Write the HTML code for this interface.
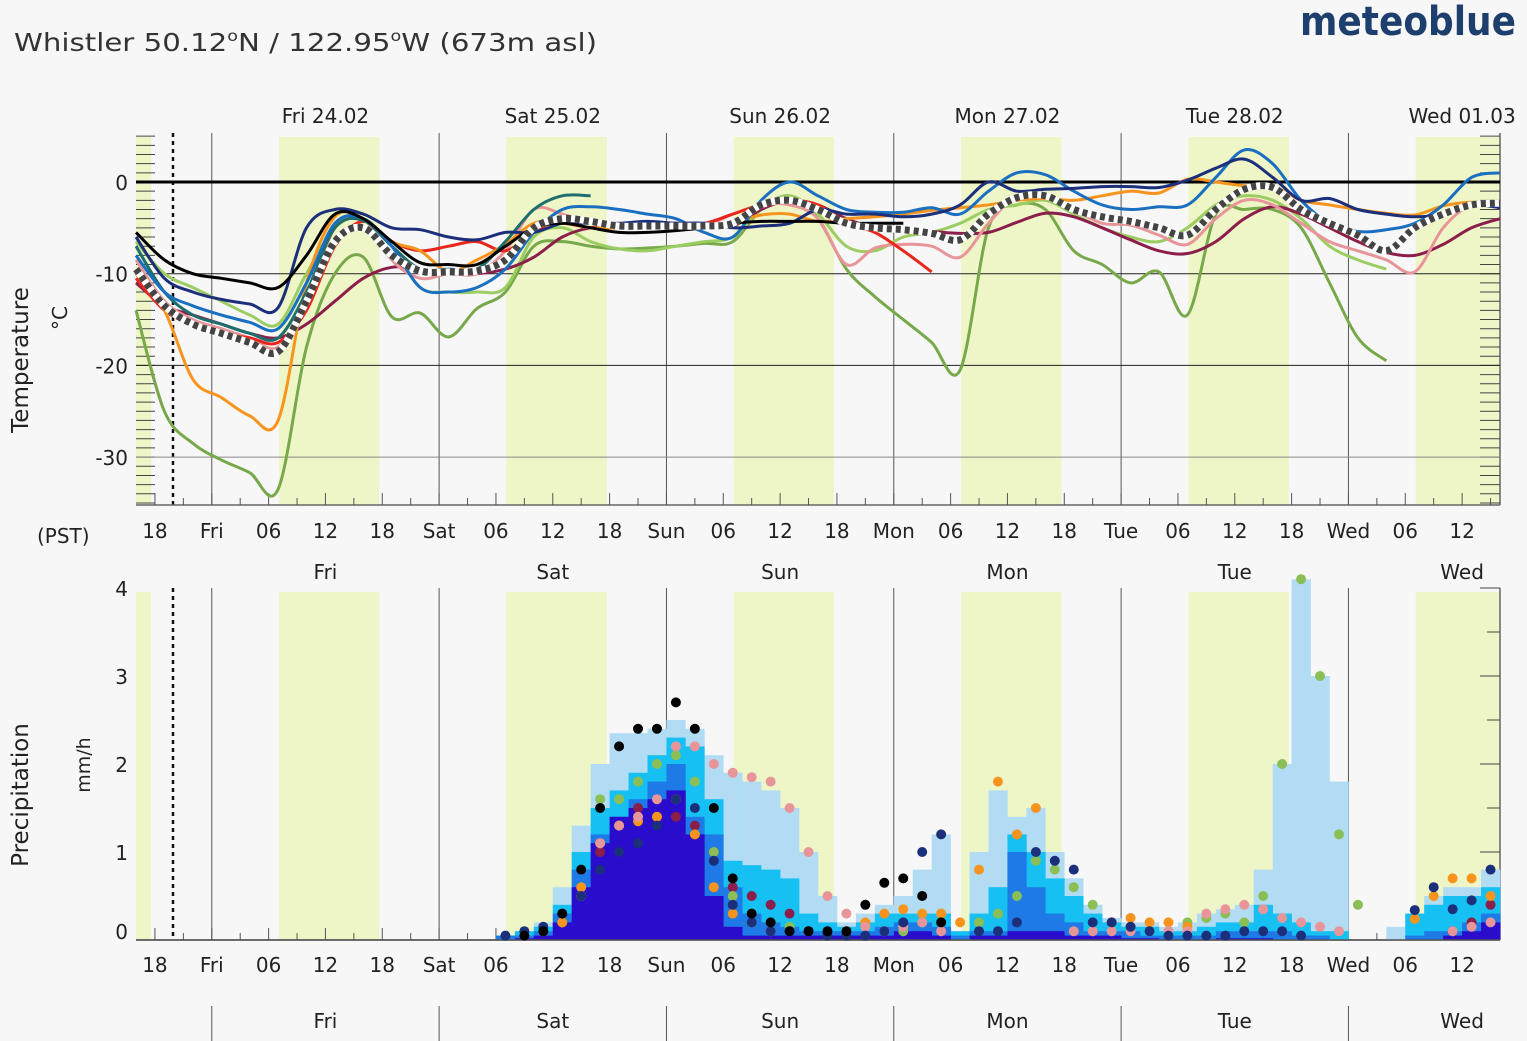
<!DOCTYPE html>
<html><head><meta charset="utf-8"><style>
html,body{margin:0;padding:0;background:#f7f7f7;}
svg{display:block;font-family:"DejaVu Sans","Liberation Sans",sans-serif;}
</style></head><body>
<svg id="chart" width="1527" height="1041" viewBox="0 0 1527 1041" xmlns="http://www.w3.org/2000/svg">
<rect x="0" y="0" width="1527" height="1041" fill="#f7f7f7"/>
<text x="14" y="51" font-size="25" fill="#333" textLength="583" lengthAdjust="spacingAndGlyphs">Whistler  50.12<tspan font-size="15" dy="-10">o</tspan><tspan dy="10">N / 122.95</tspan><tspan font-size="15" dy="-10">o</tspan><tspan dy="10">W (673m asl)</tspan></text>
<text x="1300" y="35" font-size="40" font-weight="bold" fill="#1d3f6e" textLength="216" lengthAdjust="spacingAndGlyphs">meteoblue</text>
<g id="topG"></g>
<g id="botG"></g>
<text transform="translate(28,360) rotate(-90)" text-anchor="middle" font-size="23" fill="#222">Temperature</text>
<text transform="translate(67,318) rotate(-90)" text-anchor="middle" font-size="20" fill="#222">°C</text>
<text x="37" y="543" font-size="20" fill="#222">(PST)</text>
<text transform="translate(28,795) rotate(-90)" text-anchor="middle" font-size="23" fill="#222">Precipitation</text>
<text transform="translate(90,765) rotate(-90)" text-anchor="middle" font-size="19" fill="#222">mm/h</text>
</svg>
<script>
// ---------- data ----------
const dayNames = ["Fri","Sat","Sun","Mon","Tue","Wed"];
const dayDates = ["Fri 24.02","Sat 25.02","Sun 26.02","Mon 27.02","Tue 28.02","Wed 01.03"];
const tempTicks = [0,-10,-20,-30];
const precipTicks = [0,1,2,3,4];
const tempHours = []; for (let h=0; h<=144; h+=3) tempHours.push(h);
const N=null;
const tGreenDark = [-14,-25,-28.5,-30.3,-31.7,-33.5,-18,-10,-8.2,-14.7,-14.3,-16.9,-13.8,-12,-7,-6.5,-7,-7.3,-7.2,-7,-6.7,-6.5,-3,-1.5,-4,-9.5,-12.5,-15,-17.5,-20.5,-5,-2.5,-3,-7.5,-9,-11,-9.8,-14.5,-3.5,-3,-3,-5,-11,-17,-19.5,N,N,N,N];
const tGreenLight = [-6.5,-10,-11.5,-13,-14.5,-15.5,-10,-5,-4,-7,-11.5,-12,-12,-11.5,-6,-5,-6.5,-7.3,-7.5,-7,-6.5,-6,-3,-1.5,-3.5,-7,-7.5,-6,-5.5,-4.5,-3,-2.5,-2,-3.5,-5,-6,-6.5,-5,-2.5,-1.5,-2,-4,-7,-8.5,-9.5,N,N,N,N];
const tMaroon = [-11,-13.5,-14.5,-15.5,-16.5,-17,-15.5,-13,-10.5,-9.3,-9.5,-10,-10,-9.5,-8.2,-6,-5,-5,-4.8,-4.8,-4.8,-4.8,-3,-2,-2.5,-4,-5,-5.2,-5.4,-5.6,-5.5,-4.4,-3.4,-3.8,-5,-6.3,-7.5,-7.8,-6.5,-4,-2.7,-3.5,-5,-6.5,-7.7,-8,-6.8,-5,-4];
const tPink = [-8.5,-13,-15,-16,-17,-18,-13,-5,-4,-8.5,-10.5,-10,-10,-7.5,-3,-3.5,-4.5,-5,-4.8,-4.5,-4.8,-3.5,-2.5,-2.5,-4,-9,-7.2,-6.8,-7,-8.2,-4.5,-1.5,-1.5,-3,-4.5,-4.7,-5.8,-6.8,-4,-2,-2.5,-4.5,-6.5,-7.5,-8.5,-9.8,-5,-2.5,-2.8];
const tRed = [-10.5,-14,-15.5,-16.5,-17,-17.5,-14,-7,-4.3,-6.5,-7.5,-7,-6.5,-7.5,-5.5,-4,-4.5,-5,-4.8,-4.5,-4.5,-3.5,-2.5,-2,-2.5,-4.5,-5.5,-7.5,-9.8,N,N,N,N,N,N,N,N,N,N,N,N,N,N,N,N,N,N,N,N];
const tOrange = [-10,-14,-21.5,-23.5,-25.5,-26,-11,-3.8,-4,-6.5,-7.5,-9.8,-8.5,-6.8,-4.5,-4.5,-5,-5,-5,-5,-5,-4.5,-3.6,-3.5,-4.3,-4,-3.8,-3.5,-3.1,-2.8,-2.5,-2,-1.8,-2,-1.5,-1,-1.2,0.3,0,-0.4,-0.5,-2,-2.5,-3,-3.4,-3.6,-2.6,-2.2,-2.4];
const tTeal = [-7,-12,-14.5,-15.5,-16.5,-17,-12,-5,-4.2,-7,-9.5,-9.5,-9.5,-6.5,-3,-1.5,-1.5,N,N,N,N,N,N,N,N,N,N,N,N,N,N,N,N,N,N,N,N,N,N,N,N,N,N,N,N,N,N,N,N];
const tBlue = [-8,-12,-13.5,-14.5,-15.3,-16,-11,-4.5,-4,-7,-11.5,-12,-11.5,-9.5,-5.5,-3,-2.7,-3,-3.5,-4,-5.5,-6,-2,0,-1.5,-3,-3.3,-3.3,-2.8,-3.5,-1,1,0.8,-1,-2.5,-3,-2.7,-2.5,0.5,3.5,2,-2,-4.5,-5.4,-5.2,-4.5,-2.5,0.5,1];
const tNavy = [-6,-10.5,-12,-12.8,-13.3,-13.7,-5,-3,-3.5,-5,-5.2,-6,-6.3,-5.5,-5.5,-4.5,-4.5,-4.5,-4.3,-4.5,-4.5,-5,-4.8,-4.5,-3,-3.5,-3.5,-3.8,-3.5,-2.5,0,-1,-0.8,-0.7,-0.5,-0.5,-0.6,0.2,1.5,2.5,0.5,-2,-1.8,-3,-3.5,-3.8,-3.5,-2.5,-2.8];
const tBlack = [-5.5,-8.5,-10,-10.5,-11,-11.5,-8,-3.5,-4,-6.5,-8.8,-9,-9,-7,-5,-4.5,-5,-5.5,-5.5,-5.3,-5,-4.5,-4.3,-4.3,-4.3,-4.5,-4.5,-4.5,N,N,N,N,N,N,N,N,N,N,N,N,N,N,N,N,N,N,N,N,N];
const tMean = [-9.5,-13.5,-15.5,-16.5,-17.5,-18.5,-13,-6.5,-5,-8,-9.7,-9.8,-9.7,-8.5,-5,-4,-4.3,-4.8,-4.8,-4.8,-4.8,-4.5,-2.5,-2,-3,-4.5,-5,-5.2,-5.6,-6.3,-3.5,-1.7,-1.5,-3,-3.8,-4.3,-5,-5.8,-3,-0.8,-0.6,-3,-4.5,-5.8,-7.5,-5,-3.5,-2.5,-2.3];

const precipHours = []; for (let h=38; h<=142; h+=2) precipHours.push(h);
const pLight  = [.05,.1,.2,.6,1.3,2.0,2.35,2.35,2.4,2.5, 2.4,2.1,1.9,1.8,1.7,1.5,1.0,.5,.2,.3, .4,.5,.8,1.2,.1,1.0,1.7,1.4,1.5,1.0, .7,.4,.25,.2,.2,.15,.2,.3,.35,.4, .8,2.0,4.1,3.0,1.8,0,0,.15,.3,.5, .6,.6,.8];
const pCyan   = [.05,.1,.15,.4,1.0,1.5,1.7,1.9,2.1,2.3, 2.2,1.6,.9,.85,.8,.7,.3,.2,.15,.2, .3,.3,.3,.3,.1,.3,.6,1.2,1.0,.7, .5,.3,.2,.15,.15,.1,.1,.15,.2,.2, .4,.3,.2,.1,.1,0,0,0,.3,.4, .5,.5,.6];
const pBlue   = [.05,.05,.1,.3,.8,1.2,1.4,1.6,1.8,2.0, 1.4,1.2,.6,.3,.2,.15,.1,.1,.1,.1, .15,.2,.2,.15,.05,.1,.1,1.0,.6,.3, .2,.1,.1,.1,.05,.05,.05,.05,.1,.1, .1,.1,.05,.05,0,0,0,0,.05,.1, .1,.2,.3];
const pIndigo = [0,.02,.05,.2,.6,1.1,1.4,1.5,1.6,1.7, 1.2,.5,.15,.05,.05,.05,.05,.05,.05,.05, .05,.1,.1,.05,0,.05,.05,.1,.1,.1, .05,.05,.05,.02,.02,0,0,0,.02,.02, .02,0,0,0,0,0,0,0,0,0, .05,.1,.2];
const dBlack  = [N,.05,.1,.3,.8,1.5,2.2,2.4,2.4,2.7, 2.4,1.5,.7,.3,.2,.1,.1,.1,.1,.4, .65,.7,.5,.2,N,N,N,N,N,N, N,N,N,N,N,N,N,N,N,N, N,N,N,N,N,N,N,N,N,N, N,N,N];
const dPink   = [N,N,N,N,.5,1.1,1.3,1.4,1.6,2.2, 2.2,2.0,1.9,1.85,1.8,1.5,1.0,.5,.3,.15, .1,.15,.2,.1,N,N,N,N,N,N, .1,.1,.1,.1,.1,.1,.1,.3,.35,.4, .35,.25,.2,.15,.1,N,N,N,N,N, .1,.15,.2];
const dGreen  = [N,N,.1,.2,.5,1.6,1.6,1.8,2.0,2.1, 1.8,1.0,.5,.3,.2,.15,.1,N,N,N, N,.1,.2,.3,N,.2,.3,.5,.9,.8, .6,.4,.2,.15,.1,.05,.2,.25,.3,.2, .5,2.0,4.1,3.0,1.2,.4,N,N,N,N, N,N,N];
const dNavy   = [.05,.1,.15,.3,.5,.8,1.0,1.1,1.3,1.6, 1.5,.9,.4,.2,.1,.1,.1,.05,.05,.05, .1,.2,1.0,1.2,N,.1,.1,.2,1.0,.9, .8,.2,.2,.15,.1,.05,.05,.05,.05,.1, .1,.1,.05,N,N,N,N,N,.34,.6, .35,.45,.8];
const dOrange = [N,N,N,.2,.6,1.1,1.3,1.35,1.4,1.6, 1.2,.6,.3,.2,.1,N,N,N,.1,.2, .3,.35,.3,.3,.2,.8,1.8,1.2,1.5,N, N,N,.2,.25,.2,.2,.15,N,N,N, N,N,N,N,N,N,N,N,.24,.5, .7,.7,.5];
const dMaroon = [N,N,.1,.2,.5,1.0,1.3,1.5,1.4,1.4, 1.3,1.0,.6,.5,.4,.3,.1,N,N,N, N,N,N,N,N,N,N,N,N,N, N,N,N,N,N,N,N,N,N,N, N,N,N,N,N,N,N,N,N,N, .1,.2,.4];

// ---------- scales ----------
const X0=136, X1=1500, HRS=144;
const X = h => X0 + h*(X1-X0)/HRS;
const TY = t => 182 - t*9.17;
const PY = p => 940 - p*88;
const NS="http://www.w3.org/2000/svg";
function mk(parent, tag, attrs, txt){
  const e=document.createElementNS(NS,tag);
  for(const k in attrs) e.setAttribute(k,attrs[k]);
  if(txt!==undefined) e.textContent=txt;
  parent.appendChild(e); return e;
}
const topG=document.getElementById('topG'), botG=document.getElementById('botG');

function frame(g, y0, y1, isTop){
  const spans=[[-100,1.6]];
  for(let d=0; d<6; d++) spans.push([8+24*d+7.1, 8+24*d+17.7]);
  spans.forEach(s=>{
    const a=Math.max(X(s[0]),X0), b=Math.min(X(s[1]),X1);
    if(b<=a) return;
    const r=mk(g,'rect',{x:a,y:y0+4,width:b-a,height:y1-y0-4,fill:'#eef6c8'});
    
    
  });
  for(let d=0; d<6; d++){
    const l=mk(g,'line',{x1:X(8+24*d),x2:X(8+24*d),y1:y0,y2:y1,stroke:'#555','stroke-width':1});
    
    
  }
  const nl=mk(g,'line',{x1:173,x2:173,y1:y0,y2:y1,stroke:'#111','stroke-width':2.5,'stroke-dasharray':'4 4'});
  
  
  mk(g,'line',{x1:X0,x2:X1,y1:y1,y2:y1,stroke:'#666','stroke-width':1.5});
  mk(g,'line',{x1:X1,x2:X1,y1:y0,y2:y1,stroke:'#666','stroke-width':1.5});
  for(let h=2; h<=144; h+=3){
    const big=((h-2)%6===0);
    mk(g,'line',{x1:X(h),x2:X(h),y1:y1-(big?12:7),y2:y1,stroke:'#555','stroke-width':1});
  }
  const ly = isTop?538:972;
  for(let h=2; h<=140; h+=6){
    const hr=(16+h)%24; let lab;
    if(hr===0) lab=dayNames[Math.floor((h-8)/24)];
    else lab=(hr<10?'0':'')+hr;
    const t=mk(g,'text',{x:X(h),y:ly,'text-anchor':'middle','font-size':20,fill:'#222'},lab);
    
    
  }
}

// ---------- temperature ----------
frame(topG,133,505,true);
for(let v=5; v>=-35; v--){
  mk(topG,'line',{x1:X0,x2:X0+19,y1:TY(v),y2:TY(v),stroke:'#444','stroke-width':1});
  mk(topG,'line',{x1:X1-20,x2:X1,y1:TY(v),y2:TY(v),stroke:'#444','stroke-width':1});
}
tempTicks.forEach(v=>{
  const gl=mk(topG,'line',{x1:X0,x2:X1,y1:TY(v),y2:TY(v),stroke:v===0?'#000':(v===-30?'#888':'#222'),'stroke-width':v===0?3:1});
  
  
  const t=mk(topG,'text',{x:128,y:TY(v)+8,'text-anchor':'end','font-size':20,fill:'#222'},String(v));
  
  
});
dayDates.forEach((d,i)=>{
  const t=mk(topG,'text',{x:X(20+24*i),y:123,'text-anchor':'middle','font-size':20,fill:'#222'},d);
  
  
});
function segs(vals){
  const out=[]; let cur=[];
  vals.forEach((v,i)=>{ if(v===null){ if(cur.length) out.push(cur); cur=[]; } else cur.push([X(tempHours[i]),TY(v)]); });
  if(cur.length) out.push(cur); return out;
}
function smooth(p){
  let d=`M${p[0][0].toFixed(1)},${p[0][1].toFixed(1)}`;
  for(let i=0;i<p.length-1;i++){
    const p0=p[i-1]||p[i], p1=p[i], p2=p[i+1], p3=p[i+2]||p2;
    const c1=[p1[0]+(p2[0]-p0[0])/6, p1[1]+(p2[1]-p0[1])/6];
    const c2=[p2[0]-(p3[0]-p1[0])/6, p2[1]-(p3[1]-p1[1])/6];
    d+=` C${c1[0].toFixed(1)},${c1[1].toFixed(1)} ${c2[0].toFixed(1)},${c2[1].toFixed(1)} ${p2[0].toFixed(1)},${p2[1].toFixed(1)}`;
  }
  return d;
}
const tSeries=[[tGreenDark,'#77a94a','temp-line-green'],[tGreenLight,'#9ccd62','temp-line-lightgreen'],[tMaroon,'#8b1e4a','temp-line-maroon'],[tPink,'#e8959a','temp-line-pink'],[tRed,'#e8261b','temp-line-red'],[tOrange,'#f7941d','temp-line-orange'],[tTeal,'#1f6e6e','temp-line-teal'],[tBlue,'#1a6fc0','temp-line-blue'],[tNavy,'#1b2f7a','temp-line-navy'],[tBlack,'#000','temp-line-black']];
tSeries.forEach(s=>{
  segs(s[0]).forEach(p=>{
    const path=mk(topG,'path',{d:smooth(p),fill:'none',stroke:s[1],'stroke-width':3,'stroke-linejoin':'round'});
    
    
  });
});
segs(tMean).forEach(p=>{
  mk(topG,'path',{d:smooth(p),fill:'none',stroke:'#fff','stroke-width':7});
  const path=mk(topG,'path',{d:smooth(p),fill:'none',stroke:'#444','stroke-width':7,'stroke-dasharray':'5 4'});
  
  
});

// ---------- precipitation ----------
frame(botG,588,940,false);
for(let v=0; v<=4; v+=0.5){
  const L=(v%1===0)?20:13;
  mk(botG,'line',{x1:X1-L,x2:X1,y1:PY(v),y2:PY(v),stroke:'#444','stroke-width':1});
}
precipTicks.forEach(v=>{
  const t=mk(botG,'text',{x:128,y:(v===0?PY(v)-1:PY(v)+8),'text-anchor':'end','font-size':20,fill:'#222'},String(v));
  
  
});
dayNames.forEach((d,i)=>{
  const t=mk(botG,'text',{x:X(20+24*i),y:579,'text-anchor':'middle','font-size':20,fill:'#222'},d);
  
  
  const t2=mk(botG,'text',{x:X(20+24*i),y:1028,'text-anchor':'middle','font-size':20,fill:'#222'},d);
  
  
  const sep=mk(botG,'line',{x1:X(8+24*i),x2:X(8+24*i),y1:1006,y2:1041,stroke:'#555','stroke-width':1});
  
  
});
const layers=[[pLight,'#b1dcf4','precip-bar-max'],[pCyan,'#16c0f2','precip-bar-high'],[pBlue,'#1e7ae6','precip-bar-mid'],[pIndigo,'#2a0ccc','precip-bar-low']];
layers.forEach(L=>{
  L[0].forEach((v,i)=>{
    if(!v) return;
    const h=precipHours[i];
    const r=mk(botG,'rect',{x:X(h),y:PY(v),width:X(h+2)-X(h)+0.3,height:PY(0)-PY(v),fill:L[1]});
    
    
  });
});
mk(botG,'line',{x1:X0,x2:X1,y1:940,y2:940,stroke:'#555','stroke-width':1.5});
const dots=[[dMaroon,'#8b1e4a','precip-dot-maroon'],[dGreen,'#8bbf56','precip-dot-green'],[dOrange,'#f7941d','precip-dot-orange'],[dPink,'#e8959a','precip-dot-pink'],[dNavy,'#1b2f7a','precip-dot-navy'],[dBlack,'#000','precip-dot-black']];
dots.forEach(D=>{
  D[0].forEach((v,i)=>{
    if(v===null) return;
    const c=mk(botG,'circle',{cx:X(precipHours[i]+1),cy:PY(v),r:5,fill:D[1]});
    
    
  });
});
</script>
</body></html>
